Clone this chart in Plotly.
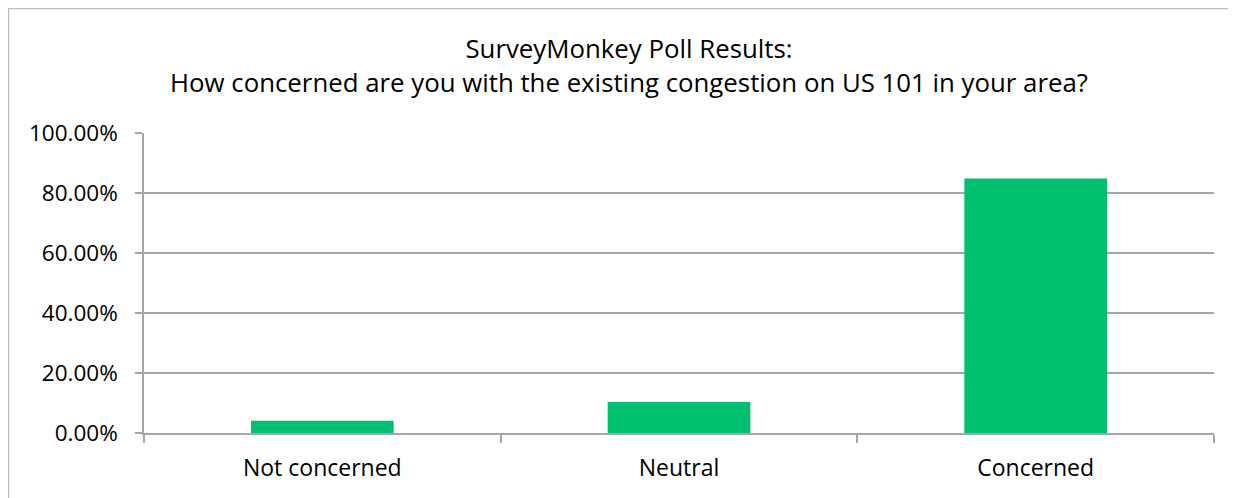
import plotly.graph_objects as go

categories = ['Not concerned', 'Neutral', 'Concerned']
share = [0.041, 0.103, 0.848]
y_ticks = [0, 0.2, 0.4, 0.6, 0.8, 1.0]

# page body adds 8px around the figure, so the figure is drawn 8px smaller
W, H = 1228, 490
L, R, T, B = 136, 22, 125, 65
plot_w = W - L - R
plot_h = H - T - B

fig = go.Figure()
fig.add_trace(go.Bar(
    x=categories,
    y=share,
    marker_color='#00BF6F',
    marker_line_width=0,
))

# chart border (only top and left edges fall inside the picture)
fig.add_shape(
    type='rect', xref='paper', yref='paper',
    x0=(0.5 - L) / plot_w, x1=(W + 20 - L) / plot_w,
    y0=-(B + 20) / plot_h, y1=(H - B - 0.5) / plot_h,
    line=dict(color='#BDBDBD', width=1.5), fillcolor='rgba(0,0,0,0)',
    layer='below',
)

fig.update_layout(
    width=W, height=H,
    margin=dict(l=L, r=R, t=T, b=B),
    paper_bgcolor='white', plot_bgcolor='white',
    font=dict(family='Open Sans', color='black'),
    title=dict(
        text='SurveyMonkey Poll Results:<br>How concerned are you with the existing congestion on US 101 in your area?',
        x=621 / W, xref='container', xanchor='center',
        y=(H - 50) / H, yanchor='middle',
        font=dict(size=25.8, family='Open Sans', color='black'),
    ),
    bargap=0.6,
    showlegend=False,
)
fig.update_xaxes(
    showline=True, linecolor='#A6A6A6', linewidth=1.5,
    ticks='outside', tickson='boundaries', ticklen=8, tickcolor='#A6A6A6', tickwidth=1.5,
    tickfont=dict(size=23, family='Open Sans', color='black'),
    ticklabelstandoff=14,
    showgrid=False,
)
fig.update_yaxes(
    range=[0, 1], tickvals=y_ticks, tickformat='.2%',
    showline=True, linecolor='#A6A6A6', linewidth=1.5,
    ticks='outside', ticklen=7, tickcolor='#A6A6A6', tickwidth=1.5,
    ticklabelstandoff=13,
    showgrid=True, gridcolor='#A6A6A6', gridwidth=1.5,
    zeroline=False,
    tickfont=dict(size=22.5, family='Open Sans', color='black'),
)

fig.write_html('out.html')
